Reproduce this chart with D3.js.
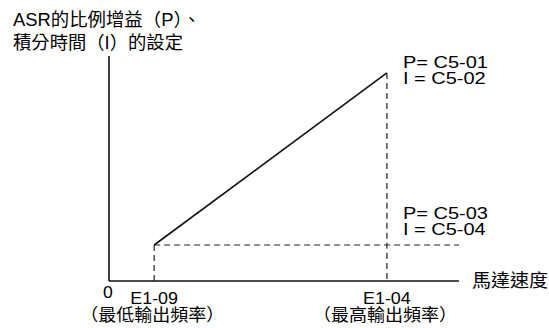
<!DOCTYPE html>
<html>
<head>
<meta charset="utf-8">
<script src="https://cdn.jsdelivr.net/npm/d3@7"></script>
<style>
  body { margin: 0; background: #fff; }
  svg text { font-family: "Liberation Sans", Arial, "Noto Sans CJK TC", sans-serif; fill: #000; }
</style>
</head>
<body>
<div id="chart"></div>
<script>
// data
var speedNames = ["E1-09", "E1-04"];
var speedSub = ["（最低輸出頻率）", "（最高輸出頻率）"];
var speedVals = [12.9, 79.4];
var gainVals = [16, 92.5];
var gainLabels = [["P= C5-03", "I = C5-04"], ["P= C5-01", "I = C5-02"]];
var titleLines = ["ASR的比例增益（P）、", "積分時間（I）的設定"];
var xTitle = "馬達速度";

var W = 549, H = 328;
var margin = {top: 56, right: 90, bottom: 47, left: 109},
    width = W - margin.left - margin.right,
    height = H - margin.top - margin.bottom;

var svg = d3.select("#chart")
  .append("svg")
    .attr("width", W)
    .attr("height", H)
  .append("g")
    .attr("transform", "translate(" + margin.left + "," + margin.top + ")");

var x = d3.scaleLinear().domain([0, 100]).range([0, width]);
var y = d3.scaleLinear().domain([0, 100]).range([height, 0]);

// latin text, slightly stretched like the scanned figure
function label(px, py, t, size, sx, anchor) {
  return svg.append("text")
    .attr("transform", "translate(" + px + "," + py + ") scale(" + sx + ",1)")
    .attr("text-anchor", anchor || "start")
    .style("font-size", size + "px")
    .text(t);
}
// chinese text, fitted to a width
function cjk(px, py, t, size, len, anchor) {
  return svg.append("text")
    .attr("x", px).attr("y", py)
    .attr("text-anchor", anchor || "start")
    .attr("textLength", len)
    .attr("lengthAdjust", "spacingAndGlyphs")
    .style("font-size", size + "px")
    .text(t);
}

// axes (plain lines, no ticks)
svg.append("line")
  .attr("x1", x(0)).attr("x2", x(0))
  .attr("y1", y(0)).attr("y2", y(100))
  .attr("stroke", "#111").attr("stroke-width", 1.6);
svg.append("line")
  .attr("x1", x(0)).attr("x2", x(100))
  .attr("y1", y(0)).attr("y2", y(0))
  .attr("stroke", "#111").attr("stroke-width", 1.6);

// dashed guides
var dash = "6,4";
speedVals.forEach(function(s, i) {
  svg.append("line")
    .attr("x1", x(s)).attr("x2", x(s))
    .attr("y1", y(gainVals[i])).attr("y2", y(0))
    .attr("stroke", "#222").attr("stroke-width", 1.2)
    .attr("stroke-dasharray", dash);
});
svg.append("line")
  .attr("x1", x(speedVals[0])).attr("x2", x(100))
  .attr("y1", y(gainVals[0])).attr("y2", y(gainVals[0]))
  .attr("stroke", "#222").attr("stroke-width", 1.2)
  .attr("stroke-dasharray", dash);

// gain line
var line = d3.line()
  .x(function(d, i) { return x(speedVals[i]); })
  .y(function(d) { return y(d); });
svg.append("path")
  .datum(gainVals)
  .attr("d", line)
  .attr("fill", "none")
  .attr("stroke", "#111")
  .attr("stroke-width", 1.6);

// P / I labels
gainLabels.forEach(function(lbl, i) {
  var ty = i == 0 ? y(gainVals[0]) - 26 : y(gainVals[1]) - 5;
  lbl.forEach(function(t, j) {
    label(x(speedVals[1]) + 16, ty + j * 16, t, 16, 1.25);
  });
});

// x labels
label(x(0) - 1, y(0) + 17, "0", 16, 1.1, "middle");
speedVals.forEach(function(s, i) {
  label(x(s), y(0) + 23, speedNames[i], 16, 1.12, "middle");
  cjk(x(s) - 2, y(0) + 40, speedSub[i], 17, 144, "middle");
});
cjk(x(100) + 13, y(0) + 6, xTitle, 18, 76);

// title
cjk(13 - margin.left, 26 - margin.top, titleLines[0], 18, 188);
cjk(13 - margin.left, 49 - margin.top, titleLines[1], 18, 170);
</script>
</body>
</html>
